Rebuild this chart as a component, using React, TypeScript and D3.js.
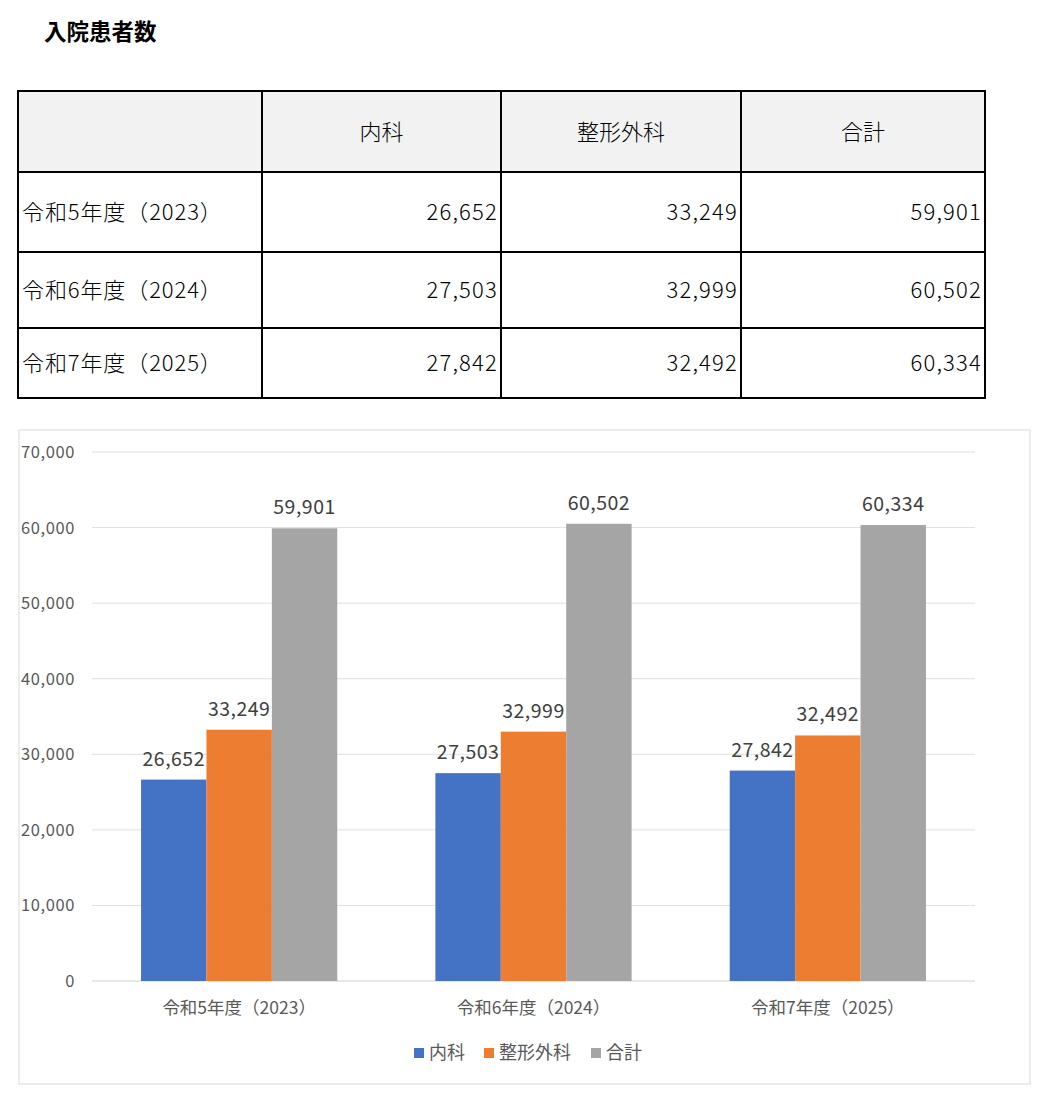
import * as d3 from "d3";
import React from "react";

const title = "入院患者数";
const years = ["令和5年度（2023）", "令和6年度（2024）", "令和7年度（2025）"];
const seriesNames = ["内科", "整形外科", "合計"];
const naika = [26652, 27503, 27842];
const seikei = [33249, 32999, 32492];
const goukei = [59901, 60502, 60334];
const colors = ["#4472c4", "#ed7d31", "#a5a5a5"];
const yTicks = [0, 10000, 20000, 30000, 40000, 50000, 60000, 70000];

const font = "'Noto Sans CJK JP', 'Noto Sans', sans-serif";
const fmt = d3.format(",");

const App: React.FC = () => {
  const width = 1047;
  const height = 1097;
  const series = [naika, seikei, goukei];

  // table
  const colX = [18, 262, 501, 741, 985];
  const rowY = [91, 172, 252, 328, 398];

  // chart
  const box = { x: 19, y: 430, w: 1011, h: 654 };
  const plotLeft = 92, plotRight = 975, plotTop = 452, plotBottom = 981;
  const x0 = d3.scaleBand().domain(years).range([plotLeft, plotRight]).paddingInner(0).paddingOuter(0);
  const groupW = x0.bandwidth() / 1.5;
  const x1 = d3.scaleBand().domain(seriesNames).range([0, groupW]);
  const y = d3.scaleLinear().domain([0, 70000]).range([plotBottom, plotTop]);

  const legendItems = [
    { name: seriesNames[0], x: 414 },
    { name: seriesNames[1], x: 484 },
    { name: seriesNames[2], x: 591 },
  ];

  return (
    <svg width={width} height={height} style={{ position: "absolute", left: 0, top: 0, background: "#fff" }} fontFamily={font}>
      <text x={44} y={40} fontSize={22.5} fontWeight={700} fill="#000">{title}</text>

      {/* table */}
      <rect x={colX[0]} y={rowY[0]} width={colX[4] - colX[0]} height={rowY[1] - rowY[0]} fill="#f2f2f2" />
      {seriesNames.map((s, i) => (
        <text key={s} x={(colX[i + 1] + colX[i + 2]) / 2} y={(rowY[0] + rowY[1]) / 2 + 8} textAnchor="middle" fontSize={22} fontWeight={300} fill="#000">{s}</text>
      ))}
      {years.map((yr, r) => (
        <g key={yr}>
          <text x={colX[0] + 4} y={(rowY[r + 1] + rowY[r + 2]) / 2 + 8} fontSize={22} fontWeight={300} letterSpacing={0.9} fill="#000">{yr}</text>
          {series.map((vals, c) => (
            <text key={c} x={colX[c + 2] - 3} y={(rowY[r + 1] + rowY[r + 2]) / 2 + 8} textAnchor="end" fontSize={22} fontWeight={300} letterSpacing={1.2} fill="#000">{fmt(vals[r])}</text>
          ))}
        </g>
      ))}
      {rowY.map((ry, i) => (
        <line key={"h" + i} x1={colX[0] - 1} x2={colX[4] + 1} y1={ry} y2={ry} stroke="#000" strokeWidth={2} />
      ))}
      {colX.map((cx, i) => (
        <line key={"v" + i} x1={cx} x2={cx} y1={rowY[0]} y2={rowY[4]} stroke="#000" strokeWidth={2} />
      ))}

      {/* chart */}
      <rect x={box.x} y={box.y} width={box.w} height={box.h} fill="#fff" stroke="#d9d9d9" strokeWidth={1} />
      {yTicks.map(t => (
        <g key={t}>
          <line x1={plotLeft} x2={plotRight} y1={y(t)} y2={y(t)} stroke={t === 0 ? "#d0d0d0" : "#e0e0e0"} strokeWidth={1} />
          <text x={75} y={y(t) + 6} textAnchor="end" fontSize={16.5} letterSpacing={0.6} fill="#595959">{fmt(t)}</text>
        </g>
      ))}
      {years.map((yr, i) => {
        const gx = x0(yr)! + (x0.bandwidth() - groupW) / 2;
        return (
          <g key={yr}>
            {series.map((vals, s) => (
              <g key={s}>
                <rect x={gx + x1(seriesNames[s])!} y={y(vals[i])} width={x1.bandwidth()} height={y(0) - y(vals[i])} fill={colors[s]} />
                <text x={gx + x1(seriesNames[s])! + x1.bandwidth() / 2} y={y(vals[i]) - 14} textAnchor="middle" fontSize={19.5} letterSpacing={0.5} fill="#404040">{fmt(vals[i])}</text>
              </g>
            ))}
            <text x={x0(yr)! + x0.bandwidth() / 2} y={1014} textAnchor="middle" fontSize={17.5} fill="#595959">{yr}</text>
          </g>
        );
      })}

      {legendItems.map((it, i) => (
        <g key={it.name}>
          <rect x={it.x} y={1048} width={10} height={10} fill={colors[i]} />
          <text x={it.x + 15} y={1059} fontSize={18} fill="#595959">{it.name}</text>
        </g>
      ))}
    </svg>
  );
};

export default App;
